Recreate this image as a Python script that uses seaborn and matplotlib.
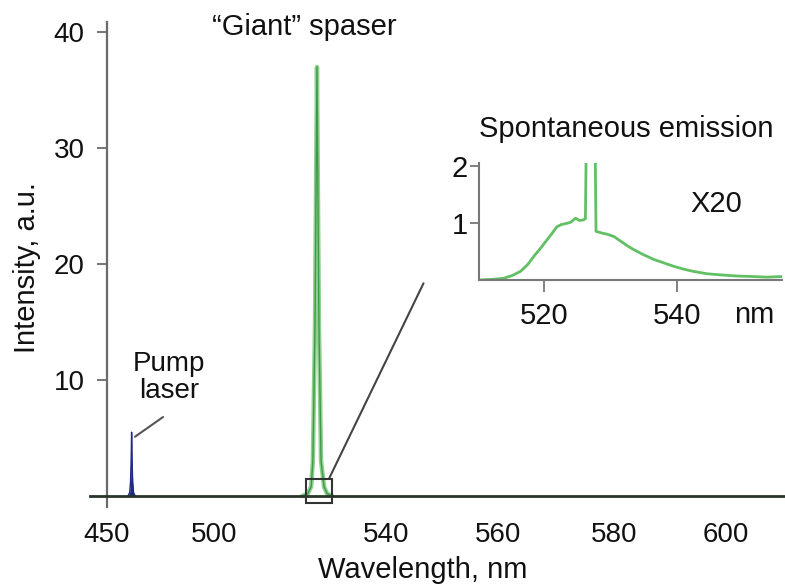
import numpy as np
import matplotlib
matplotlib.use("Agg")
import matplotlib.pyplot as plt
import seaborn as sns
from matplotlib.patches import Rectangle
from matplotlib.ticker import NullLocator

# ---------------- data ----------------
pump_nm = [459.8, 460.6, 461.0, 461.3, 461.5, 461.7, 462.0, 462.4, 463.2]
pump_int = [0.0, 0.3, 1.2, 3.2, 5.5, 3.2, 1.2, 0.3, 0.0]

spaser_nm = [520.5, 521.8, 522.6, 523.0, 523.5, 523.95, 524.4, 524.9, 525.6, 526.3, 527.5]
spaser_int = [0.0, 0.2, 0.8, 3.0, 15.0, 37.0, 15.0, 3.0, 0.8, 0.2, 0.0]

inset_nm = [510.3, 512.0, 513.9, 515.2, 516.4, 517.5, 518.4, 519.4, 520.4, 521.2,
            521.9, 522.6, 523.4, 524.0, 524.7, 525.3, 525.9, 526.2, 526.35, 527.0,
            527.65, 527.8, 528.7, 529.5, 530.5, 531.5, 532.5, 533.5, 535.0, 536.5,
            538.0, 539.5, 541.0, 542.5, 544.5, 546.5, 549.0, 551.6, 553.5, 555.8]
inset_int = [0.0, 0.01, 0.03, 0.08, 0.15, 0.27, 0.41, 0.55, 0.70, 0.82,
             0.93, 0.97, 0.99, 1.01, 1.08, 1.04, 1.05, 1.07, 2.6, 8.0,
             2.6, 0.85, 0.82, 0.80, 0.76, 0.68, 0.60, 0.53, 0.44, 0.36,
             0.30, 0.24, 0.19, 0.15, 0.11, 0.09, 0.07, 0.06, 0.05, 0.06]

x_ticks = [450, 500, 540, 560, 580, 600]
y_ticks = [10, 20, 30, 40]
inset_xticks = [520, 540]
inset_yticks = [1, 2]

# piecewise axis (the original figure's wavelength axis is not uniform)
NM_BREAKS = [400, 450, 500, 540, 560, 580, 600, 650]
PX_BREAKS = [0.0, 107.0, 214.0, 386.0, 498.0, 614.0, 726.0, 1006.0]


def fwd(x):
    return np.interp(x, NM_BREAKS, PX_BREAKS)


def inv(p):
    return np.interp(p, PX_BREAKS, NM_BREAKS)


# ---------------- style ----------------
sns.set_theme(style="white")
plt.rcParams["font.family"] = ["Liberation Sans", "DejaVu Sans"]

W, H = 785, 587
fig = plt.figure(figsize=(W / 100, H / 100), dpi=100)
fig.patch.set_facecolor("white")

ax = fig.add_axes([90 / W, 80 / H, 695 / W, 485.3 / H])
ax.set_xscale("function", functions=(fwd, inv))

navy = "#1f2a80"
axgray = "#6b6b6b"

sns.lineplot(x=spaser_nm, y=spaser_int, ax=ax, color="#8fd08f", lw=3.2,
             estimator=None, sort=False, zorder=3)
sns.lineplot(x=spaser_nm, y=spaser_int, ax=ax, color="#3e9a48", lw=1.0,
             estimator=None, sort=False, zorder=3)
ax.fill_between(pump_nm, pump_int, color=navy, lw=0, zorder=3)
sns.lineplot(x=pump_nm, y=pump_int, ax=ax, color=navy, lw=1.0,
             estimator=None, sort=False, zorder=3)

ax.set_xlim(442.06, 610.54)
ax.set_ylim(-0.95, 40.9)

for s in ["top", "right"]:
    ax.spines[s].set_visible(False)
ax.spines["left"].set_position(("data", 450))
ax.spines["bottom"].set_position(("data", 0))
ax.spines["left"].set_color(axgray)
ax.spines["left"].set_linewidth(1.6)
ax.spines["bottom"].set_color("#27352a")
ax.spines["bottom"].set_linewidth(2.0)
ax.spines["bottom"].set_zorder(4)

ax.set_xticks(x_ticks)
ax.set_xticklabels([str(v) for v in x_ticks])
ax.xaxis.set_minor_locator(NullLocator())
ax.set_yticks(y_ticks)
ax.set_yticklabels([str(v) for v in y_ticks])
ax.tick_params(axis="x", length=0, pad=18.5, labelsize=20, labelcolor="#111")
ax.tick_params(axis="y", direction="out", length=7, width=1.3, color=axgray,
               pad=9, labelsize=20, labelcolor="#111", left=True)
ax.set_xlabel("")
ax.set_ylabel("")

# zoom box and connector
ax.add_patch(Rectangle((521.4, -0.63), 6.1, 2.1, fill=False, ec="#333333",
                       lw=1.5, zorder=5))
ax.plot([526.8, 546.7], [1.53, 18.34], color="#444444", lw=1.5, zorder=4)
# pump connector
ax.plot([463.1, 476.2], [5.11, 6.81], color="#555555", lw=1.5, zorder=4)
ax.text(479.0, 10.26, "Pump\nlaser", ha="center", va="center", fontsize=20,
        linespacing=1.05, color="#111")

fig.text(304 / W, (H - 35) / H, "\u201cGiant\u201d spaser", ha="center",
         va="baseline", fontsize=21, color="#111")
fig.text(423 / W, (H - 578.3) / H, "Wavelength, nm", ha="center",
         va="baseline", fontsize=21, color="#111")
fig.text(27 / W, (H - 268) / H, "Intensity, a.u.", rotation=90, ha="center",
         va="center", fontsize=21, color="#111")

# ---------------- inset ----------------
ax_in = fig.add_axes([479.3 / W, (H - 280) / H, 302.4 / W, 117.3 / H])
ax_in.patch.set_alpha(0)
sns.lineplot(x=inset_nm, y=inset_int, ax=ax_in, color="#62c064", lw=2.0,
             estimator=None, sort=False)
ax_in.set_xlim(510.2, 555.8)
ax_in.set_ylim(0, 2.05)
for s in ["top", "right"]:
    ax_in.spines[s].set_visible(False)
for s in ["left", "bottom"]:
    ax_in.spines[s].set_color("#777777")
    ax_in.spines[s].set_linewidth(1.5)
ax_in.set_xticks(inset_xticks)
ax_in.set_xticklabels([str(v) for v in inset_xticks])
ax_in.set_yticks(inset_yticks)
ax_in.set_yticklabels([str(v) for v in inset_yticks])
ax_in.tick_params(axis="x", direction="out", length=8.5, width=1.3,
                  color="#777777", pad=7, labelsize=21, labelcolor="#111",
                  bottom=True)
ax_in.tick_params(axis="y", direction="out", length=6.5, width=1.3,
                  color="#777777", pad=2, labelsize=21, labelcolor="#111",
                  left=True)
ax_in.set_xlabel("")
ax_in.set_ylabel("")
ax_in.text(545.9, 1.19, "X20", ha="center", va="baseline", fontsize=21,
           color="#111")
ax_in.annotate("nm", xy=(551.6, -0.369), xycoords=("data", "axes fraction"),
               ha="center", va="baseline", fontsize=21, color="#111",
               annotation_clip=False)
fig.text(625.8 / W, (H - 136.7) / H, "Spontaneous emission", ha="center",
         va="baseline", fontsize=21, color="#111")

fig.savefig("out.png", dpi=100, facecolor="white")
